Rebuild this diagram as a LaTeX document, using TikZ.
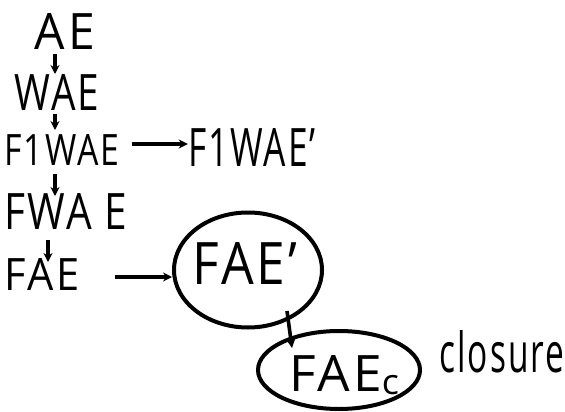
\documentclass[tikz,border=0pt]{standalone}
\usepackage{fontspec}
\usepackage{graphicx}
\setmainfont{Open Sans}[LetterSpace=6]
\usetikzlibrary{arrows.meta,shapes.geometric}
\newcommand{\hw}[3]{\resizebox{#1pt}{#2pt}{#3}}
\begin{document}
\begin{tikzpicture}[x=1pt,y=-1pt,
  lbl/.style={inner sep=0pt,font=\fontsize{40}{44}\selectfont},
  conn/.style={line width=3.6pt,-{Stealth[length=9pt,width=9pt]}},
  blob/.style={draw,line width=4pt,ellipse}]
\useasboundingbox (0,0) rectangle (565,412);
\node[lbl] (ae) at (65,31) {\hw{60}{36}{AE}};
\node[lbl] (wae) at (57,92) {\hw{85}{36}{WAE}};
\node[lbl] (f1wae) at (62,150) {\hw{115}{31}{F1WAE}};
\node[lbl] (f1waep) at (252,147) {\hw{128}{38}{F1WAE'}};
\node[lbl] (fwae) at (66,211) {\hw{123}{36}{FWA E}};
\node[lbl] (fae) at (42,274) {\hw{75}{32}{FAE}};
\node[blob,minimum width=148pt,minimum height=115pt] (faepb) at (248,270) {};
\node[lbl] (faep) at (245,263) {\hw{105}{42}{FAE'}};
\node[blob,minimum width=162pt,minimum height=78pt] (faecb) at (339,370) {};
\node[lbl] (faec) at (344,375) {\hw{110}{36}{FAE\raisebox{-2pt}{\fontsize{28}{30}\selectfont c}}};
\node[lbl] (cl) at (502,352) {\hw{125}{42}{closure}};
\draw[conn] (55,54) -- (55,74);
\draw[conn] (55,114) -- (55,130);
\draw[conn] (f1wae.east) ++(12,-6) coordinate (a1) -- (f1waep.west |- a1);
\draw[conn] (55,174) -- (55,196);
\draw[conn] (48,240) -- (48,262);
\draw[conn] (fae.east) ++(35,3) coordinate (b1) -- (faepb.west |- b1);
\draw[conn] (287,311) -- (292,348);
\end{tikzpicture}
\end{document}
